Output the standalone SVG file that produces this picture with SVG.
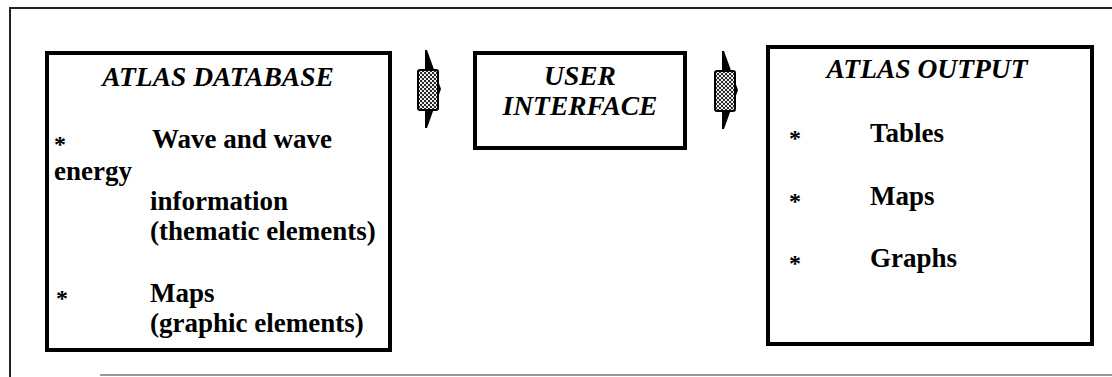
<svg xmlns="http://www.w3.org/2000/svg" width="1112" height="377" viewBox="0 0 1112 377">
<defs>
<pattern id="dots" width="4" height="4" patternUnits="userSpaceOnUse">
<rect width="4" height="4" fill="#fff"/>
<circle cx="1" cy="1" r="1.2" fill="#222"/>
<circle cx="3" cy="3" r="1.2" fill="#222"/>
</pattern>
<g id="arrowShape">
<polygon points="427,50 441,89 427,128 425,128 425,50" fill="#000"/>
<rect x="418" y="70" width="20" height="40" rx="2" fill="url(#dots)" stroke="#000" stroke-width="2"/>
</g>
</defs>
<style>
.box{fill:#fff;stroke:#000;stroke-width:4}
.title{font-family:"Liberation Serif","Times New Roman",serif;font-weight:bold;font-style:italic;font-size:27.5px;fill:#000}
.body{font-family:"Liberation Serif","Times New Roman",serif;font-weight:bold;font-size:27px;fill:#000}
.star{font-family:"Liberation Serif","Times New Roman",serif;font-weight:bold;font-size:24px;fill:#000}
.mid{text-anchor:middle}
</style>
<rect width="1112" height="377" fill="#fff"/>
<g id="frame">
<line x1="9" y1="8" x2="1112" y2="8" stroke="#222" stroke-width="2"/>
<line x1="10" y1="7" x2="10" y2="377" stroke="#222" stroke-width="2"/>
<line x1="100" y1="375" x2="1112" y2="375" stroke="#999" stroke-width="2"/>
</g>
<g id="atlas-database">
<rect class="box" x="47" y="53" width="343" height="297"/>
<text class="title mid" x="218" y="86">ATLAS DATABASE</text>
<text class="star" x="54" y="152">*</text>
<text class="body" x="152" y="148">Wave and wave</text>
<text class="body" x="54" y="180">energy</text>
<text class="body" x="150" y="210">information</text>
<text class="body" x="150" y="240">(thematic elements)</text>
<text class="star" x="56" y="306">*</text>
<text class="body" x="150" y="302">Maps</text>
<text class="body" x="150" y="332">(graphic elements)</text>
</g>
<g id="user-interface">
<rect class="box" x="475" y="53" width="210" height="95"/>
<text class="title mid" x="580" y="85">USER</text>
<text class="title mid" x="580" y="115">INTERFACE</text>
</g>
<g id="atlas-output">
<rect class="box" x="768" y="47" width="324" height="297"/>
<text class="title mid" x="927" y="78">ATLAS OUTPUT</text>
<text class="star" x="789" y="146">*</text>
<text class="body" x="870" y="142">Tables</text>
<text class="star" x="789" y="209">*</text>
<text class="body" x="870" y="205">Maps</text>
<text class="star" x="789" y="271">*</text>
<text class="body" x="870" y="267">Graphs</text>
</g>
<g id="connectors">
<use href="#arrowShape"/>
<use href="#arrowShape" transform="translate(297,1)"/>
</g>
</svg>
